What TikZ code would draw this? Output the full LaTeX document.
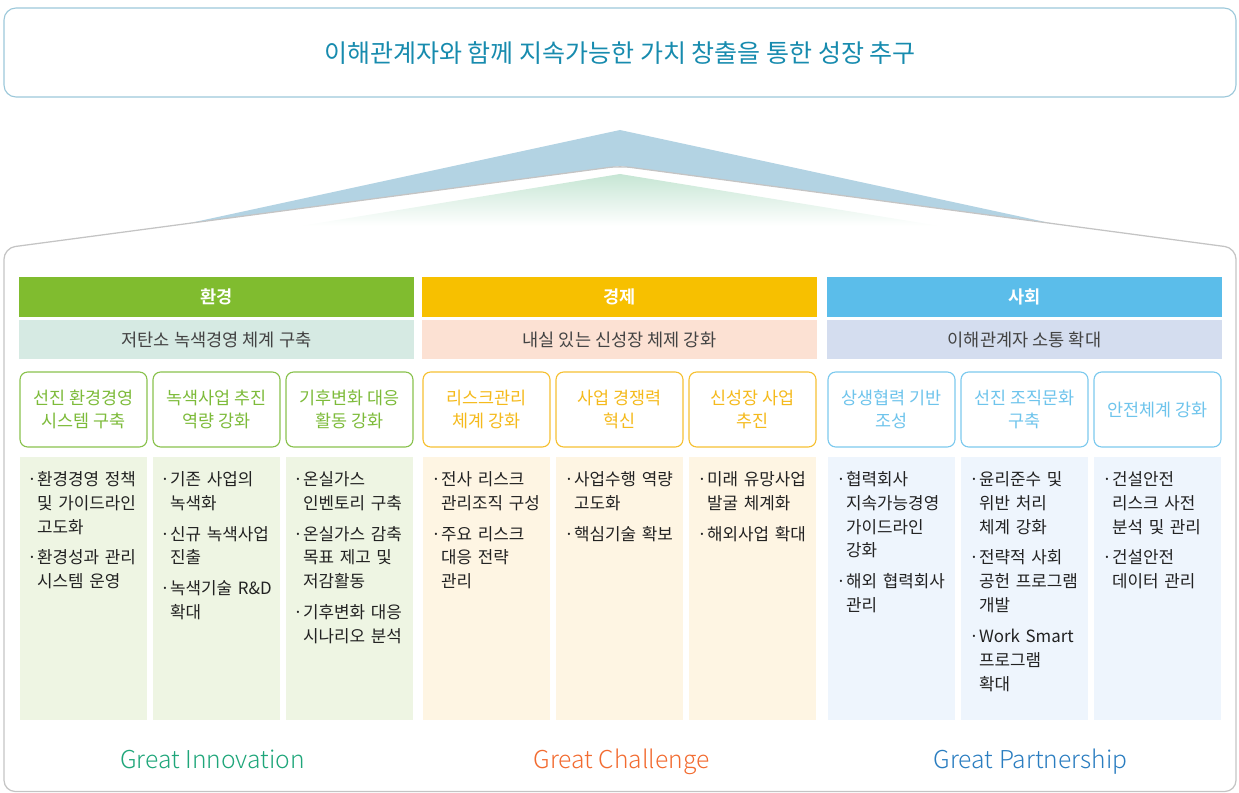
\documentclass[tikz,border=0pt]{standalone}
\usepackage{fontspec}
\IfFontExistsTF{Noto Sans CJK KR Bold}
  {\setmainfont{Noto Sans CJK KR}[BoldFont={Noto Sans CJK KR Bold}]}
  {\setmainfont{Noto Sans CJK KR}}
\IfFontExistsTF{Noto Sans CJK KR Light}
  {\newfontfamily\greatfont{Noto Sans CJK KR Light}}
  {\newfontfamily\greatfont{Noto Sans CJK KR}}
\usepackage{tikz}

\definecolor{titleblue}{HTML}{178BAE}
\definecolor{boxline}{HTML}{9CC8DA}
\definecolor{roofblue}{HTML}{B3D3E3}
\definecolor{roofline}{HTML}{C4C4C4}
\definecolor{roofmint}{HTML}{C6E6D4}
\definecolor{roofgreen}{HTML}{D3EAB5}
\definecolor{envgreen}{HTML}{80BC2F}
\definecolor{envband}{HTML}{D6EAE3}
\definecolor{envtext}{HTML}{7DBB3A}
\definecolor{envpanel}{HTML}{EEF5E3}
\definecolor{ecoyellow}{HTML}{F7C000}
\definecolor{ecoband}{HTML}{FCE1D3}
\definecolor{ecotext}{HTML}{F5BA1C}
\definecolor{ecopanel}{HTML}{FEF5E3}
\definecolor{socblue}{HTML}{5BBDEA}
\definecolor{socband}{HTML}{D4DDEF}
\definecolor{soctext}{HTML}{6EC4EC}
\definecolor{socpanel}{HTML}{EEF5FD}
\definecolor{innogreen}{HTML}{1FA67A}
\definecolor{challorange}{HTML}{F26B30}
\definecolor{partblue}{HTML}{2A7DC0}
\definecolor{bodytext}{HTML}{222222}

% bullet item with hanging lines
\newcommand{\bul}{\par\hangindent=7pt\hangafter=1\noindent\makebox[7pt][l]{·}}
\newcommand{\itemgap}{\setlength{\parskip}{5pt}}

\begin{document}
\begin{tikzpicture}[x=0.025cm, y=-0.025cm,
	headbar/.style={minimum width=9.85cm, minimum height=1cm, inner sep=0, text=white, font=\bfseries\fontsize{12.5}{14}\selectfont},
	subband/.style={minimum width=9.85cm, minimum height=0.975cm, inner sep=0, text=bodytext!85, font=\fontsize{12.5}{14}\selectfont},
	goalbox/.style={draw, fill=white, rounded corners=5.5pt, line width=0.8pt, minimum width=3.175cm, minimum height=1.875cm, inner sep=0, align=center, font=\fontsize{12.4}{16.2}\selectfont},
	panel/.style={minimum width=3.175cm, minimum height=6.575cm, inner sep=0},
	itemtext/.style={anchor=north west, text width=3.1cm, align=left, inner sep=0, text=bodytext, font=\fontsize{12}{17}\selectfont},
	great/.style={anchor=base, font=\greatfont\fontsize{17.5}{20}\selectfont}]
	\useasboundingbox (0,0) rectangle (1239,793);

	% Top goal
	\draw[boxline, line width=0.8pt, rounded corners=8.5pt] (4,8) rectangle (1236,97);
	\node[text=titleblue, font=\fontsize{17.8}{20}\selectfont] (goal) at (620,53) {이해관계자와 함께 지속가능한 가치 창출을 통한 성장 추구};

	% Roof
	\fill[roofblue] (190,223) -- (620,130) -- (1050,223) -- (620,166) -- cycle;
	\shade[top color=roofmint, middle color=roofgreen, bottom color=white] (620,174) -- (940,226) -- (300,226) -- cycle;
	\draw[roofline, line width=0.9pt, rounded corners=8pt] (4,791.5) -- (4,248) -- (620,166) -- (1236,248) -- (1236,791.5) -- cycle;

	%Environment
	\node[headbar, fill=envgreen] (env) at (216.5,297) {환경};
	\node[subband, fill=envband] (envsub) at (216.5,339.5) {저탄소 녹색경영 체계 구축};
	\node[goalbox, draw=envtext!90, text=envtext] (env1) at (83.5,409.5) {선진 환경경영\\시스템 구축};
	\node[goalbox, draw=envtext!90, text=envtext] (env2) at (216.5,409.5) {녹색사업 추진\\역량 강화};
	\node[goalbox, draw=envtext!90, text=envtext] (env3) at (349.5,409.5) {기후변화 대응\\활동 강화};
	\node[panel, fill=envpanel] (envp1) at (83.5,588.5) {};
	\node[panel, fill=envpanel] (envp2) at (216.5,588.5) {};
	\node[panel, fill=envpanel] (envp3) at (349.5,588.5) {};
	\node[itemtext] (envt1) at (27,454) {\itemgap\bul 환경경영 정책\newline 및 가이드라인\newline 고도화\bul 환경성과 관리\newline 시스템 운영\par};
	\node[itemtext] (envt2) at (160,454) {\itemgap\bul 기존 사업의\newline 녹색화\bul 신규 녹색사업\newline 진출\bul 녹색기술 R\&D\newline 확대\par};
	\node[itemtext] (envt3) at (293,454) {\itemgap\bul 온실가스\newline 인벤토리 구축\bul 온실가스 감축\newline 목표 제고 및\newline 저감활동\bul 기후변화 대응\newline 시나리오 분석\par};

	%Economy
	\node[headbar, fill=ecoyellow] (eco) at (619.5,297) {경제};
	\node[subband, fill=ecoband] (ecosub) at (619.5,339.5) {내실 있는 신성장 체제 강화};
	\node[goalbox, draw=ecotext!90, text=ecotext] (eco1) at (486.5,409.5) {리스크관리\\체계 강화};
	\node[goalbox, draw=ecotext!90, text=ecotext] (eco2) at (619.5,409.5) {사업 경쟁력\\혁신};
	\node[goalbox, draw=ecotext!90, text=ecotext] (eco3) at (752.5,409.5) {신성장 사업\\추진};
	\node[panel, fill=ecopanel] (ecop1) at (486.5,588.5) {};
	\node[panel, fill=ecopanel] (ecop2) at (619.5,588.5) {};
	\node[panel, fill=ecopanel] (ecop3) at (752.5,588.5) {};
	\node[itemtext] (ecot1) at (431,454) {\itemgap\bul 전사 리스크\newline 관리조직 구성\bul 주요 리스크\newline 대응 전략\newline 관리\par};
	\node[itemtext] (ecot2) at (564,454) {\itemgap\bul 사업수행 역량\newline 고도화\bul 핵심기술 확보\par};
	\node[itemtext] (ecot3) at (697,454) {\itemgap\bul 미래 유망사업\newline 발굴 체계화\bul 해외사업 확대\par};

	%Society
	\node[headbar, fill=socblue] (soc) at (1024.5,297) {사회};
	\node[subband, fill=socband] (socsub) at (1024.5,339.5) {이해관계자 소통 확대};
	\node[goalbox, draw=soctext!90, text=soctext] (soc1) at (891.5,409.5) {상생협력 기반\\조성};
	\node[goalbox, draw=soctext!90, text=soctext] (soc2) at (1024.5,409.5) {선진 조직문화\\구축};
	\node[goalbox, draw=soctext!90, text=soctext] (soc3) at (1157.5,409.5) {안전체계 강화};
	\node[panel, fill=socpanel] (socp1) at (891.5,588.5) {};
	\node[panel, fill=socpanel] (socp2) at (1024.5,588.5) {};
	\node[panel, fill=socpanel] (socp3) at (1157.5,588.5) {};
	\node[itemtext] (soct1) at (836,454) {\itemgap\bul 협력회사\newline 지속가능경영\newline 가이드라인\newline 강화\bul 해외 협력회사\newline 관리\par};
	\node[itemtext] (soct2) at (969,454) {\itemgap\bul 윤리준수 및\newline 위반 처리\newline 체계 강화\bul 전략적 사회\newline 공헌 프로그램\newline 개발\bul Work Smart\newline 프로그램\newline 확대\par};
	\node[itemtext] (soct3) at (1102,454) {\itemgap\bul 건설안전\newline 리스크 사전\newline 분석 및 관리\bul 건설안전\newline 데이터 관리\par};

	%Slogans
	\node[great, text=innogreen] (inno) at (212.5,768) {Great Innovation};
	\node[great, text=challorange] (chall) at (621.5,768) {Great Challenge};
	\node[great, text=partblue] (part) at (1030.5,768) {Great Partnership};

\end{tikzpicture}
\end{document}
